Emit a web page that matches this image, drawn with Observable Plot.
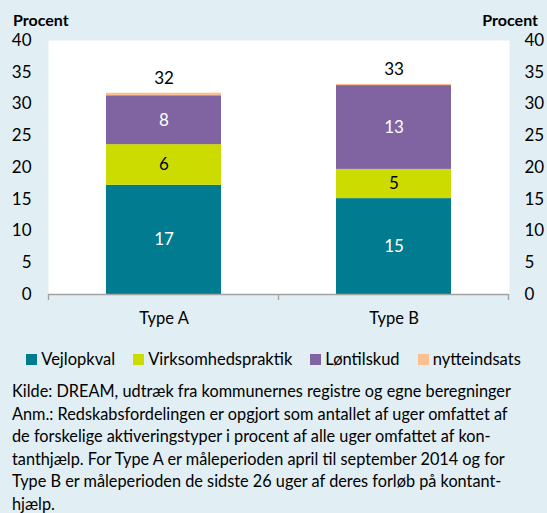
<!DOCTYPE html>
<html><head><meta charset="utf-8">
<script src="https://cdn.jsdelivr.net/npm/d3@7"></script>
<script src="https://cdn.jsdelivr.net/npm/@observablehq/plot@0.6"></script>
<style>
html,body{margin:0;padding:0;background:#e1eef3;font-family:Lato,sans-serif;color:#000;}
#wrap{position:relative;width:547px;height:513px;overflow:hidden;}
#chart{position:absolute;left:0;top:0;}
.ylab{position:absolute;top:11px;font-weight:bold;font-size:16px;line-height:18px;}
#legend{position:absolute;top:350px;left:0;width:547px;display:flex;justify-content:center;font-size:16.5px;line-height:18px;}
.item{display:flex;align-items:center;margin:0 9px;}
.sw{width:11px;height:11px;margin-right:4px;}
#caption{position:absolute;top:380px;left:12px;font-size:16.3px;line-height:22.5px;white-space:nowrap;}
</style></head><body>
<div id="wrap">
  <div id="chart"></div>
  <div class="ylab" style="left:13px">Procent</div>
  <div class="ylab" style="right:9px">Procent</div>
  <div id="legend"></div>
  <div id="caption">Kilde: DREAM, udtræk fra kommunernes registre og egne beregninger<br>Anm.: Redskabsfordelingen er opgjort som antallet af uger omfattet af<br>de forskelige aktiveringstyper i procent af alle uger omfattet af kon-<br>tanthjælp. For Type A er måleperioden april til september 2014 og for<br>Type B er måleperioden de sidste 26 uger af deres forløb på kontant-<br>hjælp.</div>
</div>
<script>
const categories = ["Type A", "Type B"];
const seriesNames = ["Vejlopkval", "Virksomhedspraktik", "Løntilskud", "nytteindsats"];
const seriesColors = ["#007b8f", "#cddc00", "#8064a2", "#fac090"];
const typeAValues = [17.2, 6.4, 7.7, 0.4];
const typeBValues = [15.1, 4.6, 13.2, 0.2];
const yTicks = [0, 5, 10, 15, 20, 25, 30, 35, 40];
const whiteLabelSeries = ["Vejlopkval", "Løntilskud"];
const blackLabelSeries = ["Virksomhedspraktik"];

const valuesByCat = [typeAValues, typeBValues];
const rows = [];
categories.forEach((cat, i) => {
  seriesNames.forEach((s, j) => rows.push({cat, series: s, value: valuesByCat[i][j]}));
});
const totals = categories.map((cat, i) => ({cat, total: d3.sum(valuesByCat[i])}));

const stackOpts = {x: "cat", y: "value", z: "series", order: seriesNames};

const plot = Plot.plot({
  width: 547,
  height: 340,
  marginLeft: 48,
  marginRight: 38,
  marginTop: 40,
  marginBottom: 46,
  style: {background: "transparent", fontFamily: "Lato, sans-serif", fontSize: "16.5px", color: "#000", overflow: "visible"},
  x: {domain: categories, paddingInner: 0.5, paddingOuter: 0.25, label: null, axis: null},
  y: {domain: [0, 40], label: null, axis: null},
  color: {domain: seriesNames, range: seriesColors},
  marks: [
    Plot.frame({fill: "white", stroke: "none"}),
    Plot.barY(rows, Plot.stackY({...stackOpts, fill: "series"})),
    Plot.text(rows, Plot.stackY({...stackOpts,
      text: d => whiteLabelSeries.includes(d.series) ? String(Math.round(d.value)) : null,
      fill: "white", fontSize: 17})),
    Plot.text(rows, Plot.stackY({...stackOpts,
      text: d => blackLabelSeries.includes(d.series) ? String(Math.round(d.value)) : null,
      fill: "black", fontSize: 17})),
    Plot.text(totals, {x: "cat", y: "total", text: d => String(Math.round(d.total)), dy: -15, fill: "black", fontSize: 17}),
    Plot.ruleY([0], {stroke: "#a3a3a3", strokeWidth: 1.3}),
    Plot.axisY({anchor: "left", ticks: yTicks, tickSize: 0, tickPadding: 17, label: null, fill: "black", fontSize: 17}),
    Plot.axisY({anchor: "right", ticks: yTicks, tickSize: 0, tickPadding: 15, textAnchor: "start", label: null, fill: "black", fontSize: 17}),
    Plot.axisX({tickSize: 0, tickPadding: 18, label: null, fill: "black", fontSize: 16.5})
  ]
});
document.getElementById("chart").appendChild(plot);

// category boundary ticks on the x axis, derived from Plot's band scale
const xs = plot.scale("x");
const ys = plot.scale("y");
const centers = categories.map(c => xs.apply(c) + xs.bandwidth / 2);
const bounds = [centers[0] - xs.step / 2, ...centers.map(c => c + xs.step / 2)];
const y0 = ys.apply(0);
d3.select(plot).append("g")
  .selectAll("line").data(bounds).join("line")
  .attr("x1", d => d).attr("x2", d => d)
  .attr("y1", y0).attr("y2", y0 + 6)
  .attr("stroke", "#a3a3a3").attr("stroke-width", 1.3);

// legend
const legend = d3.select("#legend");
seriesNames.forEach((s, i) => {
  const item = legend.append("div").attr("class", "item");
  item.append("div").attr("class", "sw").style("background", seriesColors[i]);
  item.append("span").text(s);
});
</script>
</body></html>
